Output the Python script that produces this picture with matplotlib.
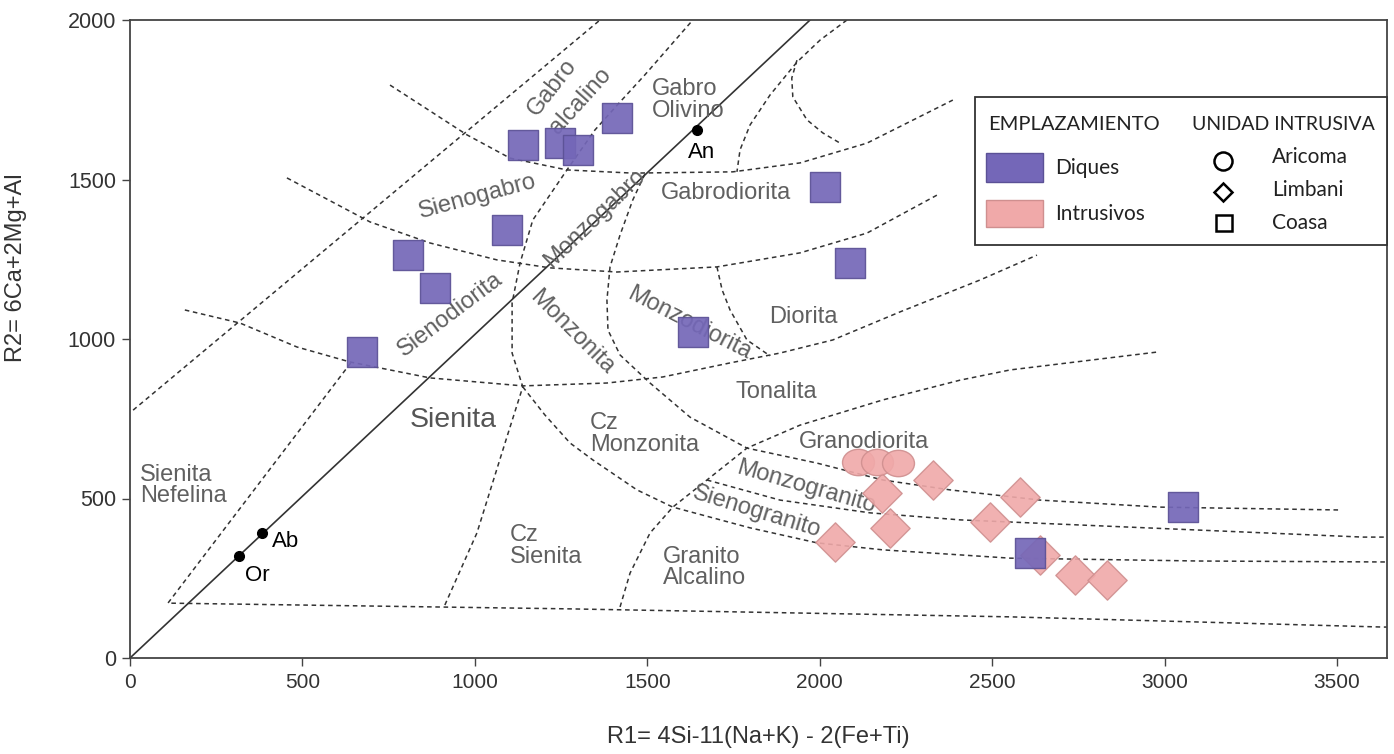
"""
Diagrama R1-R2 (De la Roche) - Diques e Intrusivos
Salida: out.png
"""
import matplotlib
matplotlib.use('Agg')
import matplotlib.pyplot as plt
from matplotlib import font_manager
from matplotlib.markers import MarkerStyle
from matplotlib.transforms import Affine2D
from matplotlib.patches import Rectangle
from matplotlib.lines import Line2D

# ============================================================
# DATOS (R1, R2)
# ============================================================
# Diques - unidad Coasa (cuadrados morados)
diques_r1 = [1139, 1247, 1299, 1412, 1093, 806, 884, 673, 1632, 2015, 2088, 3053, 2610]
diques_r2 = [1608, 1614, 1592, 1693, 1342, 1263, 1160, 959, 1022, 1476, 1238, 473, 329]

# Intrusivos - unidad Aricoma (circulos)
aricoma_r1 = [2111, 2166, 2227]
aricoma_r2 = [614, 614, 611]

# Intrusivos - unidad Limbani (rombos)
limbani_r1 = [2328, 2180, 2204, 2044, 2494, 2581, 2639, 2740, 2833]
limbani_r2 = [558, 517, 408, 364, 426, 505, 323, 260, 245]

# Puntos de referencia
ref_names = ['Or', 'Ab', 'An']
ref_r1 = [316, 383, 1643]
ref_r2 = [320, 392, 1655]

# Linea continua Or-Ab-An
linea_feldespatos = [(0, 0), (1972, 2000)]

# Limites de campos (lineas discontinuas)
lim_gabro_alc = [(9, 777), (1363, 2000)]
lim_nefelina = [(640, 925), (110, 172), (1276, 154), (2552, 129), (3633, 97), (3645, 97)]
arco_1 = [(754, 1796), (977, 1640), (1102, 1567), (1267, 1530), (1458, 1520),
          (1748, 1524), (1943, 1552), (2137, 1614), (2386, 1749)]
arco_2 = [(455, 1505), (696, 1367), (870, 1301), (1064, 1248), (1218, 1223),
          (1412, 1210), (1702, 1226), (1943, 1270), (2137, 1332), (2340, 1451)]
arco_3 = [(159, 1091), (319, 1050), (484, 975), (638, 928), (870, 878), (1139, 853),
          (1383, 862), (1545, 881), (1740, 925), (1885, 956), (2038, 997),
          (2233, 1085), (2465, 1185), (2630, 1263)]
lim_sienita = [(913, 166), (1006, 392), (1093, 693), (1139, 850), (1108, 956),
               (1108, 1113), (1131, 1238), (1168, 1373), (1267, 1530), (1348, 1655),
               (1421, 1743), (1493, 1828), (1632, 2000)]
lim_monzonita = [(1493, 1517), (1458, 1436), (1421, 1326), (1392, 1226), (1383, 1122),
                 (1386, 1028), (1421, 950), (1508, 862), (1624, 755), (1789, 658),
                 (1992, 611), (2183, 558), (2378, 527), (2639, 495), (2986, 473),
                 (3508, 464)]
lim_diorita = [(1702, 1226), (1717, 1154), (1740, 1091), (1789, 997), (1856, 947)]
lim_gabro_ol = [(2079, 2000), (2001, 1937), (1934, 1868), (1856, 1765), (1798, 1671),
                (1769, 1593), (1760, 1524)]
arco_olivino = [(1934, 1874), (1919, 1818), (1922, 1759), (1963, 1687), (2009, 1646),
                (2059, 1614)]
lim_tonalita = [(1421, 160), (1450, 266), (1508, 392), (1574, 473), (1673, 558),
                (1789, 658), (1943, 730), (2183, 809), (2407, 871), (2552, 903),
                (2978, 959)]
lim_monzogranito = [(1673, 558), (1885, 495), (2146, 455), (2407, 433), (3575, 379),
                    (3645, 379)]
lim_sienogranito = [(1139, 850), (1203, 762), (1276, 674), (1342, 621), (1470, 527),
                    (1574, 473), (1798, 408), (1992, 361), (2183, 339), (2552, 313),
                    (3102, 304), (3645, 301)]

limites = [lim_gabro_alc, lim_nefelina, arco_1, arco_2, arco_3, lim_sienita,
           lim_monzonita, lim_diorita, lim_gabro_ol, arco_olivino, lim_tonalita,
           lim_monzogranito, lim_sienogranito]

# Nombres de campos: (texto, R1, R2, rotacion, alineacion horizontal)
campos = [
    ('Gabro', 1224, 1787, 52, 'center'),
    ('alcalino', 1305, 1745, 48, 'center'),
    ('Gabro\nOlivino', 1514, 1749, 0, 'left'),
    ('Sienogabro', 1009, 1445, 15, 'center'),
    ('Gabrodiorita', 1728, 1458, 0, 'center'),
    ('Monzogabro', 1348, 1379, 44, 'center'),
    ('Sienodiorita', 928, 1078, 37, 'center'),
    ('Monzonita', 1282, 1022, -45, 'center'),
    ('Monzodiorita', 1621, 1050, -27, 'center'),
    ('Diorita', 1954, 1069, 0, 'center'),
    ('Tonalita', 1873, 834, 0, 'center'),
    ('Cz\nMonzonita', 1334, 702, 0, 'left'),
    ('Sienita\nNefelina', 29, 542, 0, 'left'),
    ('Cz\nSienita', 1102, 351, 0, 'left'),
    ('Granodiorita', 2128, 677, 0, 'center'),
    ('Monzogranito', 1960, 536, -16, 'center'),
    ('Sienogranito', 1818, 458, -17, 'center'),
    ('Granito\nAlcalino', 1545, 285, 0, 'left'),
]
# posicion de las etiquetas Or, Ab, An (esquina izquierda, centro vertical)
ref_lab_r1 = [333, 412, 1618]
ref_lab_r2 = [260, 364, 1586]

# ============================================================
# ESTILO
# ============================================================
nombres = {f.name for f in font_manager.fontManager.ttflist}
FUENTE = 'Liberation Sans'
FUENTE_NARROW = 'Liberation Sans Narrow' if 'Liberation Sans Narrow' in nombres else FUENTE
FUENTE_LEY = 'Lato' if 'Lato' in nombres else 'DejaVu Sans'
plt.rcParams['font.family'] = [FUENTE, 'DejaVu Sans']

C_DIQUES = '#7467b8'
C_DIQUES_BORDE = '#5b5196'
C_INTRUS = '#f0a9a9'
C_INTRUS_BORDE = '#cf8f8f'
C_LINEA = '#333333'
C_TEXTO = '#606060'

W, H = 1394, 754
fig = plt.figure(figsize=(W / 100, H / 100), dpi=100)
ax = fig.add_axes([130 / W, (H - 658) / H, 1257 / W, 638 / H])


def px(x, y):
    # pixel de la figura -> fraccion de figura
    return x / W, 1 - y / H


# lineas de los campos
for lim in limites:
    xs = [p[0] for p in lim]
    ys = [p[1] for p in lim]
    ax.plot(xs, ys, color=C_LINEA, lw=1.1, ls=(0, (3, 2.4)), zorder=2)

ax.plot([p[0] for p in linea_feldespatos], [p[1] for p in linea_feldespatos],
        color=C_LINEA, lw=1.2, zorder=2)
ax.plot(ref_r1, ref_r2, 'o', color='black', ms=7, zorder=3)
for name, x, y in zip(ref_names, ref_lab_r1, ref_lab_r2):
    ax.text(x, y, name, fontsize=16, color='black', ha='left', va='center', zorder=3)

for txt, x, y, rot, ha in campos:
    ax.text(x, y, txt, fontsize=17, color=C_TEXTO, rotation=rot, ha=ha, va='center',
            rotation_mode='anchor', linespacing=0.95, zorder=3)
ax.text(937, 746, 'Sienita', fontsize=20.5, color='#555555', ha='center', va='center',
        zorder=3)

# muestras
elipse = MarkerStyle('o', transform=Affine2D().scale(1.15, 0.95))
ax.scatter(limbani_r1, limbani_r2, marker='D', s=20 ** 2, color=C_INTRUS,
           edgecolor=C_INTRUS_BORDE, linewidth=1, alpha=0.9, zorder=4)
ax.scatter(aricoma_r1, aricoma_r2, marker=elipse, s=20 ** 2, color=C_INTRUS,
           edgecolor=C_INTRUS_BORDE, linewidth=1, alpha=0.9, zorder=4)
ax.scatter(diques_r1, diques_r2, marker='s', s=21.5 ** 2, color=C_DIQUES,
           edgecolor=C_DIQUES_BORDE, linewidth=1, alpha=0.92, zorder=5)

# ejes
ax.set_xlim(0, 3645)
ax.set_ylim(0, 2000)
ax.set_xticks(range(0, 3501, 500))
ax.set_yticks(range(0, 2001, 500))
for s in ax.spines.values():
    s.set_color('#444444')
    s.set_linewidth(1.3)
ax.tick_params(direction='out', length=6, width=1, color='#444444')
ax.tick_params(axis='y', labelsize=15.5, labelcolor='#333333', pad=4)
ax.tick_params(axis='x', labelsize=15, labelcolor='#333333', pad=5)
for lab in ax.get_xticklabels():
    lab.set_fontfamily(FUENTE_NARROW)
ax.set_xlabel('R1= 4Si-11(Na+K) - 2(Fe+Ti)', fontsize=17, family=FUENTE_NARROW,
              color='#333333', labelpad=24)
ax.set_ylabel('R2= 6Ca+2Mg+Al', fontsize=17, color='#333333')
ax.yaxis.set_label_coords(-0.082, 0.611)

# leyenda dibujada a mano
x0, y0 = px(975, 245)
x1, y1 = px(1387, 97)
fig.add_artist(Rectangle((x0, y0), x1 - x0, y1 - y0, transform=fig.transFigure,
                         facecolor='white', edgecolor='#333333', lw=1.3, zorder=10))
fig.text(*px(988, 125), 'EMPLAZAMIENTO', family=FUENTE_LEY, fontsize=14.5,
         color='#222222', va='center', ha='left', zorder=11)
fig.text(*px(1192, 124), 'UNIDAD INTRUSIVA', family=FUENTE_LEY, fontsize=14,
         color='#222222', va='center', ha='left', zorder=11)

for (ytop, ybot), col, edge, txt in [((153, 182), C_DIQUES, C_DIQUES_BORDE, 'Diques'),
                                     ((200, 227), C_INTRUS, C_INTRUS_BORDE, 'Intrusivos')]:
    a0, b0 = px(986, ybot)
    a1, b1 = px(1043, ytop)
    fig.add_artist(Rectangle((a0, b0), a1 - a0, b1 - b0, transform=fig.transFigure,
                             facecolor=col, edgecolor=edge, lw=1, zorder=11))
    fig.text(*px(1055, (ytop + ybot) / 2 + 1), txt, family=FUENTE_LEY, fontsize=15,
             color='#222222', va='center', ha='left', zorder=11)

for (mx, my), mk, ms, txt, ty in [((1223, 161), 'o', 13, 'Aricoma', 157),
                                  ((1223, 192), 'D', 9.5, 'Limbani', 190),
                                  ((1224, 223), 's', 12, 'Coasa', 223)]:
    fx, fy = px(mx, my)
    fig.add_artist(Line2D([fx], [fy], transform=fig.transFigure, marker=mk, ms=ms,
                          mfc='white', mec='black', mew=1.8, ls='none', zorder=11))
    fig.text(*px(1272, ty), txt, family=FUENTE_LEY, fontsize=15, color='#222222',
             va='center', ha='left', zorder=11)

fig.savefig('out.png', dpi=100)
